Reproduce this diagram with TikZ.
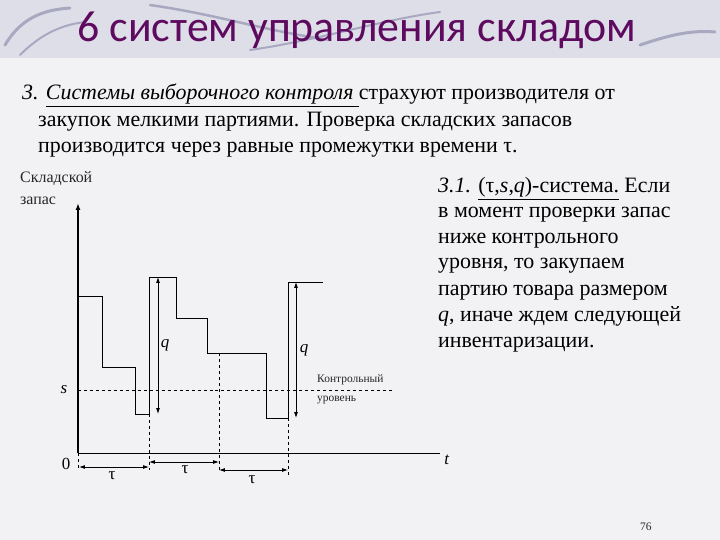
\documentclass[tikz,border=0pt]{standalone}
\usepackage{fontspec}
\setmainfont{Liberation Serif}
\newfontfamily\titlefont{Carlito}
\usetikzlibrary{arrows.meta}
\definecolor{bg}{HTML}{F2F2F4}
\definecolor{band}{HTML}{DEDEE8}
\definecolor{swirl}{HTML}{A8A8C0}
\definecolor{ttl}{HTML}{5E0A5E}
\tikzset{
 body/.style={anchor=base west,inner sep=0pt,font=\fontsize{22}{24}\selectfont},
 small/.style={anchor=base west,inner sep=0pt,font=\fontsize{11.5}{13}\selectfont,text=black!85},
 ylab/.style={anchor=base west,inner sep=0pt,font=\fontsize{16}{18}\selectfont,text=black!85},
 lbl/.style={inner sep=0pt,font=\fontsize{17}{19}\selectfont},
 axis/.style={line width=1.6pt,-{Latex[length=7pt,width=5pt]}},
 curve/.style={line width=0.8pt},
 guide/.style={dashed,line width=0.6pt},
 dim/.style={line width=0.8pt,{Latex[length=6pt,width=4pt]}-{Latex[length=6pt,width=4pt]}},
}
\begin{document}
\begin{tikzpicture}[x=1bp,y=-1bp]
\fill[bg] (0,0) rectangle (720,540);
\useasboundingbox (0,0) rectangle (720,540);
\fill[band] (0,0) rectangle (720,58);
\draw[swirl,line width=3pt,line cap=round] (5,45) .. controls (20,20) and (40,10) .. (70,8);
\draw[swirl,line width=2pt,line cap=round] (20,55) .. controls (40,35) and (60,25) .. (85,22);
\draw[swirl,line width=2.5pt,line cap=round] (150,5) .. controls (220,15) and (260,30) .. (330,40);
\draw[swirl,line width=2pt,line cap=round] (250,50) .. controls (320,40) and (380,20) .. (440,12);
\draw[swirl,line width=3pt,line cap=round] (640,45) .. controls (670,35) and (690,30) .. (715,32);
\node[inner sep=0pt,text=ttl,font=\titlefont\fontsize{44}{46}\selectfont] (title) at (357,30) {6 систем управления складом};
% body text
\node[body] (l1) at (22,100) {\textit{3. \underline{Системы выборочного контроля }}страхуют производителя от};
\node[body] (l2) at (38,127) {закупок мелкими партиями. Проверка складских запасов};
\node[body] (l3) at (38,153) {производится через равные промежутки времени τ.};
% right text
\node[body] (r1) at (438,193) {\textit{3.1.} \underline{(τ,\textit{s},\textit{q})-система.} Если};
\node[body] (r2) at (438,218) {в момент проверки запас};
\node[body] (r3) at (438,244) {ниже контрольного};
\node[body] (r4) at (438,269) {уровня, то закупаем};
\node[body] (r5) at (438,295) {партию товара размером};
\node[body] (r6) at (438,321) {\textit{q}, иначе ждем следующей};
\node[body] (r7) at (438,347) {инвентаризации.};
% labels
\node[ylab] (yl1) at (20,183) {Складской};
\node[ylab] (yl2) at (20,205) {запас};
\node[small] (k1) at (317,382) {Контрольный};
\node[small] (k2) at (317,401) {уровень};
\node[small] (pg) at (640,530) {76};
% axes
\coordinate (O) at (78,453);
\coordinate (Y) at (78,203);
\coordinate (X) at (440,453);
\draw[axis] (O) -- (Y);
\draw[line width=0.8pt] (O) -- (X);
\node[lbl] (zero) at (66,464) {0};
\node[lbl] (tl) at (447,460) {\textit{t}};
\node[lbl] (sl) at (64,390) {\textit{s}};
% curve
\draw[curve] (78,296) -| (102,367) -| (135,414) -| (149,277) -| (176,318) -| (207,353) -| (266,418) -| (288,282) -- (323,282);
% s level
\coordinate (s0) at (78,390);
\coordinate (s1) at (392,390);
\draw[guide] (s0) -- (s1);
% dashed verticals
\draw[guide] (149,414) -- (149,470);
\draw[guide] (219,353) -- (219,472);
\draw[guide] (288,418) -- (288,475);
\draw[guide] (78,453) -- (78,470);
% q arrows
\coordinate (q1a) at (158,277); \coordinate (q1b) at (158,414);
\draw[dim] (q1a) -- (q1b);
\node[lbl] (q1) at (165,345) {\textit{q}};
\coordinate (q2a) at (296,282); \coordinate (q2b) at (296,418);
\draw[dim] (q2a) -- (q2b);
\node[lbl] (q2) at (304,350) {\textit{q}};
% tau arrows
\coordinate (t1a) at (79,467); \coordinate (t1b) at (149,467);
\draw[dim] (t1a) -- (t1b);
\node[lbl] (tau1) at (112,476) {τ};
\coordinate (t2a) at (149,462); \coordinate (t2b) at (219,462);
\draw[dim] (t2a) -- (t2b);
\node[lbl] (tau2) at (185,470) {τ};
\coordinate (t3a) at (219,470); \coordinate (t3b) at (288,470);
\draw[dim] (t3a) -- (t3b);
\node[lbl] (tau3) at (252,480) {τ};
\end{tikzpicture}
\end{document}
